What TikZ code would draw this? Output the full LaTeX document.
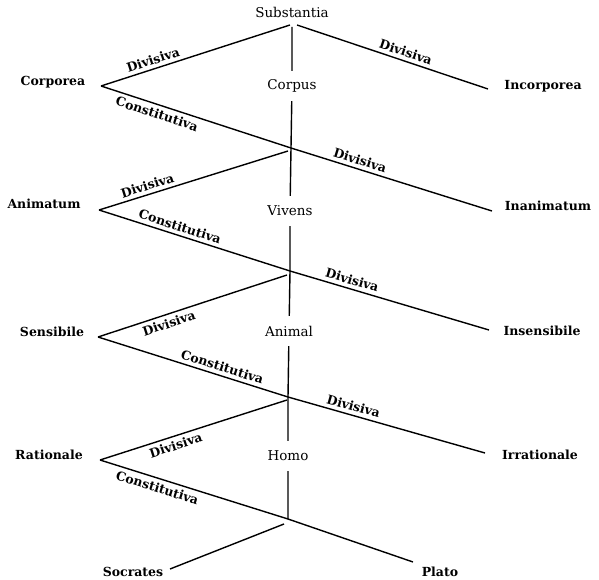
\documentclass[tikz,border=0pt]{standalone}
\usepackage{fontspec}
\setmainfont{DejaVu Serif}
\begin{document}
\begin{tikzpicture}[x=1pt,y=-1pt,line width=1.4pt,
  toplab/.style={font=\fontsize{13.5}{15}\selectfont,inner sep=0pt},
  midlab/.style={font=\fontsize{13.5}{15}\selectfont,inner xsep=2pt,inner ysep=0pt,minimum height=29pt},
  sidelab/.style={font=\bfseries\fontsize{12.5}{15}\selectfont,inner sep=0pt},
  edgelab/.style={font=\bfseries\fontsize{12.5}{14}\selectfont,sloped,inner sep=3.5pt}]
\useasboundingbox (0,0) rectangle (599,580);
% text nodes
\node[toplab] (sub) at (292,12) {Substantia};
\node[midlab] (corpus) at (292,86) {Corpus};
\node[midlab] (vivens) at (290,211) {Vivens};
\node[midlab] (animal) at (289,331) {Animal};
\node[midlab] (homo) at (288,456) {Homo};
\node[sidelab] (corporea) at (53,82) {Corporea};
\node[sidelab] (incorporea) at (543,86) {Incorporea};
\node[sidelab] (animatum) at (44,204) {Animatum};
\node[sidelab] (inanimatum) at (548,206) {Inanimatum};
\node[sidelab] (sensibile) at (52,332) {Sensibile};
\node[sidelab] (insensibile) at (542,331) {Insensibile};
\node[sidelab] (rationale) at (49,455) {Rationale};
\node[sidelab] (irrationale) at (540,455) {Irrationale};
\node[sidelab] (socrates) at (133,572) {Socrates};
\node[sidelab] (plato) at (440,572) {Plato};
% junction and end points
\coordinate (J0) at (290,25);
\coordinate (J0r) at (297,25);
\coordinate (J0v) at (292,27);
\coordinate (J1) at (291,148);
\coordinate (J1b) at (288,151);
\coordinate (J2) at (290,271);
\coordinate (J2b) at (287,275);
\coordinate (J3) at (288,397);
\coordinate (J3b) at (287,400);
\coordinate (J4) at (288,519);
\coordinate (J4b) at (284,524);
\coordinate (L1) at (101,86);
\coordinate (L2) at (99,210);
\coordinate (L3) at (98,337);
\coordinate (L4) at (100,460);
\coordinate (R0) at (488,89);
\coordinate (R1) at (492,211);
\coordinate (R2) at (489,330);
\coordinate (R3) at (485,453);
\coordinate (P) at (413,562);
\coordinate (S) at (170,569);
% vertical stem
\draw (J0v) -- (corpus) (corpus) -- (J1) -- (vivens) (vivens) -- (J2) -- (animal)
      (animal) -- (J3) -- (homo) (homo) -- (J4);
% branches
\draw (L1) -- node[edgelab,pos=0.29,above]{Divisiva} (J0);
\draw (J0r) -- node[edgelab,pos=0.555,above]{Divisiva} (R0);
\draw (L1) -- node[edgelab,pos=0.31,below]{Constitutiva} (J1);
\draw (J1) -- node[edgelab,pos=0.33,above]{Divisiva} (R1);
\draw (L2) -- node[edgelab,pos=0.27,above]{Divisiva} (J1b);
\draw (L2) -- node[edgelab,pos=0.41,above]{Constitutiva} (J2);
\draw (J2) -- node[edgelab,pos=0.30,above]{Divisiva} (R2);
\draw (L3) -- node[edgelab,pos=0.36,below]{Divisiva} (J2b);
\draw (L3) -- node[edgelab,pos=0.64,above]{Constitutiva} (J3);
\draw (J3) -- node[edgelab,pos=0.32,above]{Divisiva} (R3);
\draw (L4) -- node[edgelab,pos=0.39,below]{Divisiva} (J3b);
\draw (L4) -- node[edgelab,pos=0.32,below]{Constitutiva} (J4);
\draw (J4) -- (P);
\draw (J4b) -- (S);
\end{tikzpicture}
\end{document}
